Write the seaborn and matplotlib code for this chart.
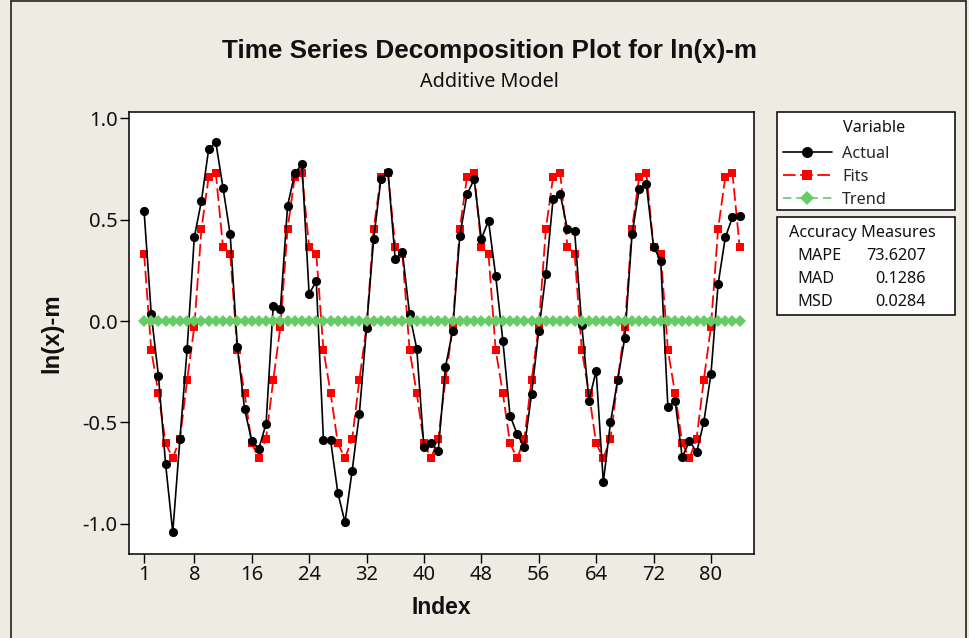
import matplotlib
matplotlib.use("Agg")
import matplotlib.pyplot as plt
import seaborn as sns
import pandas as pd
from matplotlib.lines import Line2D
from matplotlib.patches import Rectangle

# ---------------- data ----------------
index = list(range(1, 85))
actual = [0.543, 0.034, -0.269, -0.705, -1.041, -0.580, -0.138, 0.412, 0.593, 0.847, 0.880, 0.657,
          0.427, -0.126, -0.433, -0.590, -0.629, -0.506, 0.076, 0.059, 0.568, 0.727, 0.773, 0.133,
          0.197, -0.588, -0.588, -0.846, -0.992, -0.737, -0.458, -0.033, 0.405, 0.698, 0.732, 0.304,
          0.340, 0.034, -0.136, -0.622, -0.603, -0.639, -0.228, -0.048, 0.419, 0.624, 0.698, 0.405,
          0.494, 0.223, -0.097, -0.466, -0.557, -0.622, -0.360, -0.049, 0.232, 0.601, 0.624, 0.453,
          0.443, -0.020, -0.392, -0.245, -0.795, -0.499, -0.290, -0.082, 0.427, 0.650, 0.673, 0.366,
          0.297, -0.425, -0.392, -0.672, -0.590, -0.647, -0.499, -0.261, 0.182, 0.412, 0.511, 0.519]
fits = [0.332, -0.143, -0.356, -0.603, -0.676, -0.580, -0.291, -0.028, 0.455, 0.709, 0.727, 0.366,
        0.332, -0.143, -0.356, -0.603, -0.676, -0.580, -0.291, -0.028, 0.455, 0.709, 0.727, 0.366,
        0.332, -0.143, -0.356, -0.603, -0.676, -0.580, -0.291, -0.028, 0.455, 0.709, 0.727, 0.366,
        0.332, -0.143, -0.356, -0.603, -0.676, -0.580, -0.291, -0.028, 0.455, 0.709, 0.727, 0.366,
        0.332, -0.143, -0.356, -0.603, -0.676, -0.580, -0.291, -0.028, 0.455, 0.709, 0.727, 0.366,
        0.332, -0.143, -0.356, -0.603, -0.676, -0.580, -0.291, -0.028, 0.455, 0.709, 0.727, 0.366,
        0.332, -0.143, -0.356, -0.603, -0.676, -0.580, -0.291, -0.028, 0.455, 0.709, 0.727, 0.366]
trend = [0.0, 0.0, 0.0, 0.0, 0.0, 0.0, 0.0, 0.0, 0.0, 0.0, 0.0, 0.0,
         0.0, 0.0, 0.0, 0.0, 0.0, 0.0, 0.0, 0.0, 0.0, 0.0, 0.0, 0.0,
         0.0, 0.0, 0.0, 0.0, 0.0, 0.0, 0.0, 0.0, 0.0, 0.0, 0.0, 0.0,
         0.0, 0.0, 0.0, 0.0, 0.0, 0.0, 0.0, 0.0, 0.0, 0.0, 0.0, 0.0,
         0.0, 0.0, 0.0, 0.0, 0.0, 0.0, 0.0, 0.0, 0.0, 0.0, 0.0, 0.0,
         0.0, 0.0, 0.0, 0.0, 0.0, 0.0, 0.0, 0.0, 0.0, 0.0, 0.0, 0.0,
         0.0, 0.0, 0.0, 0.0, 0.0, 0.0, 0.0, 0.0, 0.0, 0.0, 0.0, 0.0]
x_ticks = [1, 8, 16, 24, 32, 40, 48, 56, 64, 72, 80]
y_ticks = [-1.0, -0.5, 0.0, 0.5, 1.0]
measure_names = ["MAPE", "MAD", "MSD"]
measure_values = ["73.6207", "0.1286", "0.0284"]

title = "Time Series Decomposition Plot for ln(x)-m"
subtitle = "Additive Model"

# ---------------- style ----------------
sns.set_theme(style="white")
plt.rcParams['font.family'] = ['Noto Sans', 'DejaVu Sans']
plt.rcParams['axes.unicode_minus'] = False
BOLD_FAMILY = ['Liberation Sans', 'DejaVu Sans']

BG = '#EEEBE2'
W, H = 969, 638
fig = plt.figure(figsize=(W / 100, H / 100), dpi=100, facecolor=BG)


def fx(px):
    return px / W


def fy(py):
    return 1 - py / H


L, R, T, B = 129, 754, 112, 554
ax = fig.add_axes([fx(L), fy(B), fx(R) - fx(L), fy(T) - fy(B)])
ax.set_facecolor('white')

df = pd.DataFrame({'Index': index, 'Actual': actual, 'Fits': fits, 'Trend': trend})

sns.lineplot(data=df, x='Index', y='Fits', ax=ax, color='#FF0000', lw=1.3,
             linestyle=(0, (7, 2.5)), marker='s', markersize=5.8, markeredgewidth=0,
             label='Fits', zorder=2)
sns.lineplot(data=df, x='Index', y='Actual', ax=ax, color='black', lw=1.2,
             marker='o', markersize=6.6, markeredgewidth=0, label='Actual', zorder=3)
sns.lineplot(data=df, x='Index', y='Trend', ax=ax, color='#66CC66', lw=1.2,
             linestyle=(0, (5, 3)), marker='D', markersize=5.8, markeredgewidth=0,
             label='Trend', zorder=4)

handles, labels = ax.get_legend_handles_labels()
if ax.get_legend() is not None:
    ax.get_legend().remove()
order = [labels.index('Actual'), labels.index('Fits'), labels.index('Trend')]
handles = [handles[i] for i in order]
labels = [labels[i] for i in order]

ax.set_xlim(-1.1, 86.0)
ax.set_ylim(-1.148, 1.030)
ax.set_xticks(x_ticks)
ax.set_xticklabels([str(v) for v in x_ticks])
ax.set_yticks(y_ticks)
ax.set_yticklabels([f"{v:.1f}" for v in y_ticks])
ax.tick_params(axis='both', which='both', direction='out', length=6.2, width=1.0,
               color='black', labelsize=14.5, labelcolor='#111111', pad=2,
               bottom=True, left=True, top=False, right=False)
for s in ax.spines.values():
    s.set_color('black')
    s.set_linewidth(1.1)
ax.grid(False)

ax.set_xlabel('Index', fontweight='bold', fontsize=14, color='#111111',
              family=BOLD_FAMILY)
ax.set_ylabel('ln(x)-m', fontweight='bold', fontsize=14, color='#111111',
              family=BOLD_FAMILY)
ax.xaxis.set_label_coords(0.5, (B - 607) / (B - T))
ax.xaxis.label.set_verticalalignment('center')
ax.yaxis.set_label_coords((52 - L) / (R - L), 0.5)
ax.yaxis.label.set_verticalalignment('center')

# ---------------- titles ----------------
renderer = fig.canvas.get_renderer()


def fit_width(t, target, use_height=False):
    bb = t.get_window_extent(renderer=renderer)
    w = bb.height if use_height else bb.width
    t.set_fontsize(t.get_fontsize() * target / w)


fit_width(ax.xaxis.label, 60)
fit_width(ax.yaxis.label, 80, use_height=True)

t1 = fig.text(fx(489.5), fy(58), title, ha='center', va='baseline',
              fontweight='bold', fontsize=16, color='#111111', family=BOLD_FAMILY)
fit_width(t1, 535)
t2 = fig.text(fx(489), fy(87), subtitle, ha='center', va='baseline',
              fontsize=12, color='#111111')
fit_width(t2, 138)

# ---------------- legend box ----------------
LEG_FS = 11.7
fig.add_artist(Rectangle((fx(777), fy(210)), fx(955) - fx(777), fy(112) - fy(210),
                         transform=fig.transFigure, facecolor='white',
                         edgecolor='black', lw=1.1, zorder=1))
fig.text(fx(843), fy(128), 'Variable', ha='left', va='center', fontsize=LEG_FS,
         color='#111111', zorder=6)
fig.legend(handles, labels, loc='upper left', bbox_to_anchor=(fx(783), fy(146)),
           frameon=False, fontsize=LEG_FS, handlelength=3.0, handletextpad=0.65,
           borderpad=0, borderaxespad=0, labelspacing=0.42, markerscale=1.2)

# ---------------- accuracy box ----------------
fig.add_artist(Rectangle((fx(777), fy(315)), fx(955) - fx(777), fy(217) - fy(315),
                         transform=fig.transFigure, facecolor='white',
                         edgecolor='black', lw=1.1, zorder=1))
fig.text(fx(862), fy(233), 'Accuracy Measures', ha='center', va='center',
         fontsize=LEG_FS, color='#111111', zorder=6)
for k, (nm, val) in enumerate(zip(measure_names, measure_values)):
    yy = 256 + k * 23
    fig.text(fx(797), fy(yy), nm, ha='left', va='center', fontsize=LEG_FS,
             color='#111111', zorder=6)
    fig.text(fx(926), fy(yy), val, ha='right', va='center', fontsize=LEG_FS,
             color='#111111', zorder=6)

# ---------------- outer frame ----------------
fig.add_artist(Line2D([fx(11), fx(11)], [0, fy(1)], transform=fig.transFigure,
                      color='#222222', lw=1.2))
fig.add_artist(Line2D([fx(11), fx(966)], [fy(1), fy(1)], transform=fig.transFigure,
                      color='#222222', lw=1.2))
fig.add_artist(Line2D([fx(966), fx(966)], [fy(1), 0], transform=fig.transFigure,
                      color='#222222', lw=1.2))

fig.savefig('out.png', dpi=100, facecolor=BG)
